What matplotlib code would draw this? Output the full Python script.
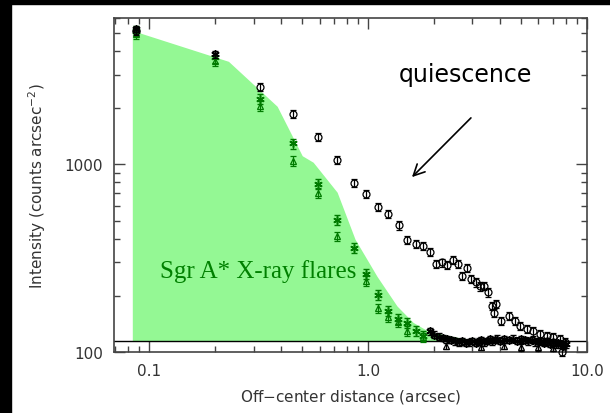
import numpy as np
import matplotlib.pyplot as plt
from matplotlib.patches import Rectangle
from matplotlib.ticker import FixedLocator, NullFormatter

# quiescent profile (black circles)
q_x = [0.087, 0.32, 0.453, 0.593, 0.724, 0.863, 0.98, 1.114, 1.238, 1.386, 1.502, 1.651,
       1.789, 1.919, 2.044, 2.168, 2.30, 2.45, 2.58, 2.70, 2.84, 2.94, 3.10, 3.24, 3.39,
       3.54, 3.67, 3.86, 3.75, 4.07, 4.42, 4.69, 4.94, 5.30, 5.69, 6.10, 6.55, 7.03, 7.54,
       7.94, 7.70]
q_y = [5100, 2570, 1860, 1397, 1050, 799, 693, 593, 542, 473, 396, 375,
       369, 342, 296, 300, 291, 309, 296, 254, 282, 245, 235, 224, 226,
       208, 177, 180, 162, 147, 156, 147, 138, 133, 129, 125, 122, 120, 118,
       113, 100]

# flare profile, black asterisks
fa_x = [0.087, 0.20, 1.92, 2.0, 2.1, 2.2, 2.3, 2.4, 2.5, 2.6, 2.7, 2.8, 2.9, 3.0, 3.1,
        3.2, 3.3, 3.4, 3.5, 3.6, 3.7, 3.8, 3.9, 4.0, 4.2, 4.4, 4.6, 4.8, 5.0, 5.2,
        5.4, 5.6, 5.8, 6.0, 6.2, 6.4, 6.6, 6.8, 7.0, 7.2, 7.4, 7.6, 7.8, 8.0]
fa_y = [5250, 3850, 129, 124, 121, 119, 117, 116, 114, 113, 114, 112, 113, 115, 112,
        114, 116, 113, 115, 117, 114, 116, 118, 115, 117, 116, 118, 115, 117, 116,
        114, 116, 113, 115, 114, 112, 114, 111, 113, 110, 112, 110, 108, 110]

# black triangles on the tail
ta_x = [2.27, 3.3, 4.2, 5.0, 6.0, 7.0]
ta_y = [108, 107, 108, 106, 106, 105]

# green asterisks / triangles
ga_x = [0.087, 0.20, 0.32, 0.453, 0.593, 0.724, 0.86, 0.98, 1.114, 1.238, 1.37, 1.50, 1.65, 1.79]
ga_y = [5150, 3700, 2220, 1290, 783, 504, 360, 260, 202, 166, 150, 143, 130, 122]
gt_x = [0.087, 0.20, 0.32, 0.453, 0.593, 0.724, 0.98, 1.114, 1.238, 1.37, 1.50, 1.79]
gt_y = [4950, 3550, 2040, 1041, 707, 413, 239, 171, 153, 144, 130, 120]

# shaded flare envelope
fill_x = [0.0836, 0.23, 0.384, 0.50, 0.561, 0.722, 0.872, 1.099, 1.356, 1.606, 1.98, 2.63, 3.25]
fill_y = [5150, 3530, 2035, 1110, 1025, 710, 399, 253, 176, 144, 125, 117, 114]
base = 114

fig = plt.figure(figsize=(6.1, 4.14), dpi=100)
fig.patches.append(Rectangle((0, 1 - 5/414), 1, 5/414, transform=fig.transFigure,
                             color='black', zorder=0))
fig.patches.append(Rectangle((0, 0), 11/610, 1, transform=fig.transFigure,
                             color='black', zorder=0))
ax = fig.add_axes([0.187, 0.147, 0.775, 0.807])

ax.fill_between(fill_x, fill_y, base, color='#94f894', lw=0, zorder=1)
ax.plot(fill_x[-3:], fill_y[-3:], color='#008000', lw=1.5, zorder=2)
ax.axhline(base, color='black', lw=1, zorder=2)

gcol = '#007a00'
ax.errorbar(gt_x, gt_y, yerr=np.array(gt_y) * 0.06, fmt='^', mfc='none', mec=gcol,
            ecolor=gcol, ms=5, mew=0.9, elinewidth=0.9, capsize=2, zorder=3)
ax.errorbar(ga_x, ga_y, yerr=np.array(ga_y) * 0.06, fmt='none', ecolor=gcol,
            elinewidth=0.9, capsize=2, zorder=3)
ax.plot(ga_x, ga_y, ls='none', marker=(6, 2, 0), ms=6, mec=gcol, mew=1.1, zorder=3)

ax.errorbar(ta_x, ta_y, yerr=np.array(ta_y) * 0.04, fmt='^', mfc='none', mec='black',
            ecolor='black', ms=5, mew=0.9, elinewidth=0.9, capsize=2, zorder=4)
ax.errorbar(fa_x, fa_y, yerr=np.array(fa_y) * 0.04, fmt='none', ecolor='black',
            elinewidth=0.9, capsize=2, zorder=4)
ax.plot(fa_x, fa_y, ls='none', marker=(6, 2, 0), ms=6, mec='black', mew=1.1, zorder=4)
ax.errorbar(q_x, q_y, yerr=np.array(q_y) * 0.05, fmt='o', mfc='none', mec='black',
            ecolor='black', ms=5, mew=0.9, elinewidth=0.9, capsize=2, zorder=5,
            clip_on=False)

ax.set_xscale('log')
ax.set_yscale('log')
ax.set_xlim(0.069, 10)
ax.set_ylim(100, 6000)

ax.xaxis.set_major_locator(FixedLocator([0.1, 1, 10]))
ax.set_xticklabels(['0.1', '1.0', '10.0'])
ax.xaxis.set_minor_locator(FixedLocator([0.07, 0.08, 0.09] + [i * 0.1 for i in range(2, 10)]
                                        + list(range(2, 10))))
ax.yaxis.set_major_locator(FixedLocator([100, 1000]))
ax.set_yticklabels(['100', '1000'])
ax.yaxis.set_minor_locator(FixedLocator([i * 100 for i in range(2, 10)]
                                        + [i * 1000 for i in range(2, 7)]))
ax.xaxis.set_minor_formatter(NullFormatter())
ax.yaxis.set_minor_formatter(NullFormatter())

ax.tick_params(which='both', direction='in', top=True, right=True, color='#444444',
               labelcolor='#333333', labelsize=11)
ax.tick_params(which='major', length=8, width=1, pad=8)
ax.tick_params(which='minor', length=4, width=1)
for s in ax.spines.values():
    s.set_color('#444444')
    s.set_linewidth(1.2)

ax.set_xlabel('Off$-$center distance (arcsec)', fontsize=11, color='#333333', labelpad=6)
ax.set_ylabel('Intensity (counts arcsec$^{-2}$)', fontsize=11, color='#333333', labelpad=12)

ax.text(0.744, 0.832, 'quiescence', transform=ax.transAxes, fontsize=17,
        ha='center', va='center', color='black')
ax.annotate('', xy=(0.626, 0.518), xytext=(0.759, 0.707), xycoords='axes fraction',
            arrowprops=dict(arrowstyle='->', color='black', lw=1.2, mutation_scale=20))
ax.text(0.097, 0.243, 'Sgr A* X-ray flares', transform=ax.transAxes, fontsize=18,
        family='Liberation Serif', color='#008000', ha='left', va='center', zorder=6)

fig.savefig('out.png', dpi=100)
